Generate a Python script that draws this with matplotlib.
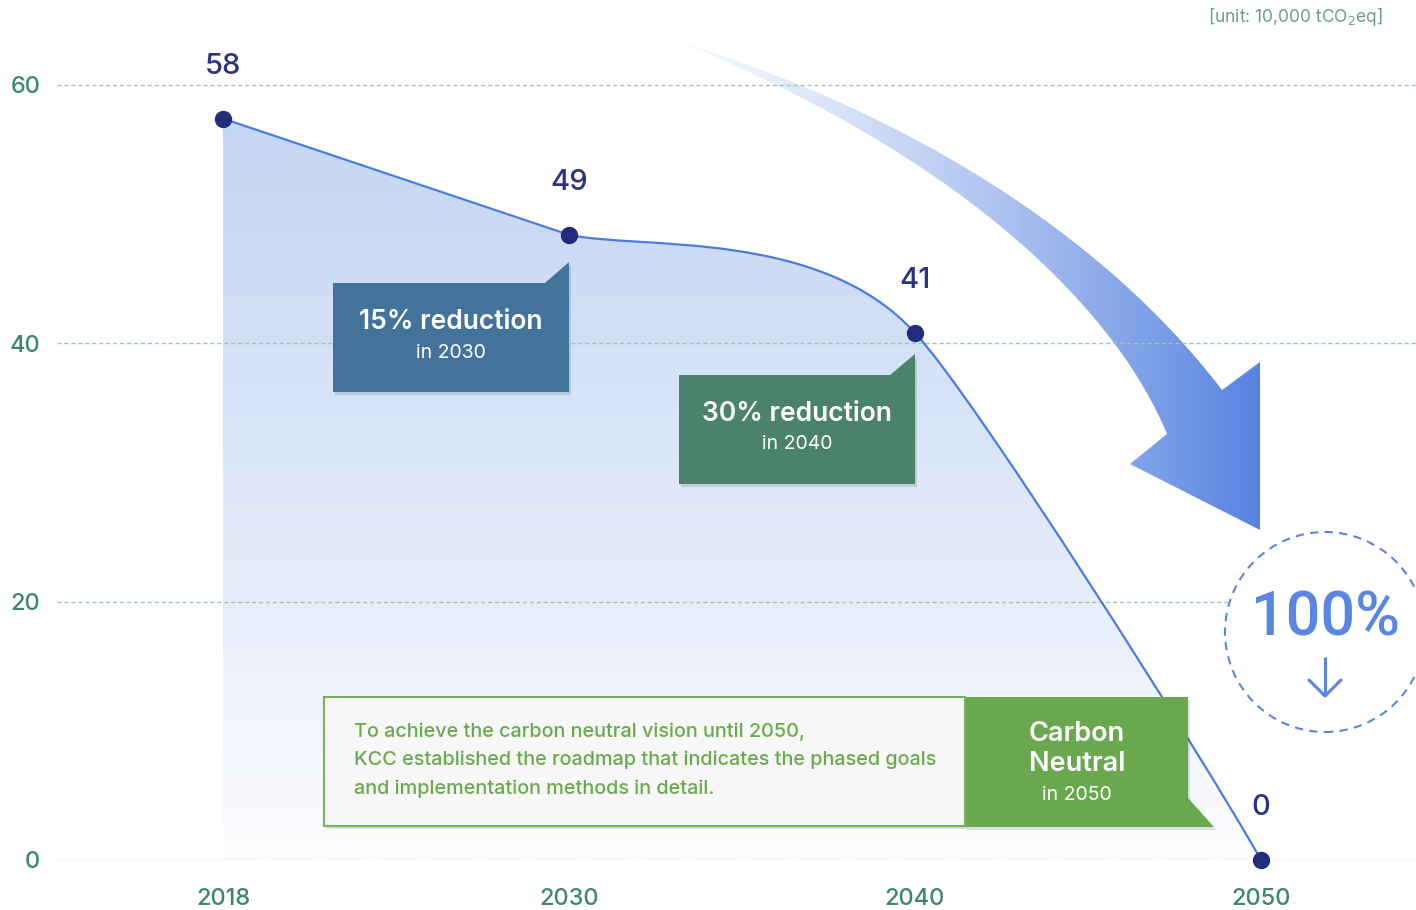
import numpy as np
import matplotlib
matplotlib.use("Agg")
import matplotlib.pyplot as plt
from matplotlib.path import Path
from matplotlib.patches import PathPatch, Polygon, Ellipse
from matplotlib.colors import to_rgb

plt.rcParams["font.family"] = ["Inter", "DejaVu Sans"]

# ==== data ====
years = ["2018", "2030", "2040", "2050"]
emissions = [57.4, 48.4, 40.8, 0.0]
value_labels = ["58", "49", "41", "0"]
y_ticks = [0, 20, 40, 60]

# ==== layout (pixels of the 1416x910 canvas) ====
W, H = 1416, 910
X0, XSTEP = 223, 346          # px of first category, px per category
Y0, YUNIT = 860, 12.917       # px of y=0, px per unit
AX_LEFT = 57

NAVY = "#232c7a"
LINE = "#4d7be0"
TEAL = "#3d8772"
GRID = "#96c9b6"
BLUE = "#5a85e0"


def P(px, py):
    """canvas pixel -> data coords"""
    return ((px - X0) / XSTEP, (Y0 - py) / YUNIT)


fig = plt.figure(figsize=(W / 100, H / 100), dpi=100)
ax = fig.add_axes([AX_LEFT / W, (H - Y0) / H, (W - AX_LEFT) / W, Y0 / H])
for s in ax.spines.values():
    s.set_visible(False)

xs = np.arange(len(years))
ax.set_xticks(xs, years)
ax.set_yticks(y_ticks)
ax.tick_params(axis="both", length=0, labelsize=17, labelcolor=TEAL)
ax.tick_params(axis="x", pad=20)
ax.tick_params(axis="y", pad=12)
for lab in ax.get_xticklabels() + ax.get_yticklabels():
    lab.set_fontweight("medium")
ax.yaxis.grid(True, color=GRID, linestyle=(0, (3, 2)), linewidth=1.0)
ax.set_axisbelow(False)

# ---- smooth curve through the points (bezier handles are styling) ----
verts = [(xs[0], emissions[0]), (xs[1], emissions[1]),
         P(640, 250), P(820, 228), (xs[2], emissions[2]),
         P(972, 393), P(1203, 757), (xs[3], emissions[3])]
codes = [Path.MOVETO, Path.LINETO,
         Path.CURVE4, Path.CURVE4, Path.CURVE4,
         Path.CURVE4, Path.CURVE4, Path.CURVE4]
curve = Path(verts, codes)

area = Path([(xs[0], 0)] + verts + [(xs[3], 0), (xs[0], 0)],
            [Path.MOVETO, Path.LINETO] + codes[1:] + [Path.LINETO, Path.CLOSEPOLY])
area_patch = PathPatch(area, facecolor="none", edgecolor="none")
ax.add_patch(area_patch)

top_c = np.array(to_rgb("#c3d6f3"))
bot_c = np.array(to_rgb("#fdfdff"))
t = np.linspace(0, 1, 256)[:, None]
w = t ** 1.1
grad = (top_c * (1 - w) + bot_c * w)[:, None, :]
im = ax.imshow(grad, extent=[xs[0], xs[3], 0, emissions[0]], aspect="auto",
               origin="upper", zorder=1, interpolation="bilinear")
im.set_clip_path(area_patch)

ax.add_patch(PathPatch(curve, facecolor="none", edgecolor=LINE, lw=1.6, zorder=3))
ax.plot(xs, emissions, "o", color=NAVY, markersize=11.5, zorder=5, clip_on=False)

for x, v, lab in zip(xs, emissions, value_labels):
    ax.annotate(lab, (x, v), xytext=(0, 37.5), textcoords="offset points",
                ha="center", va="center", fontsize=21, color="#2b3184",
                fontweight="medium", zorder=6)

# ---- big curved gradient arrow ----
arrow_px = [(680, 42), (900, 110), (1100, 230), (1222, 390),
            (1260, 362), (1260, 530), (1130, 464), (1167, 434),
            (1120, 320), (980, 165), (680, 42), (680, 42)]
arrow_codes = [Path.MOVETO, Path.CURVE4, Path.CURVE4, Path.CURVE4,
               Path.LINETO, Path.LINETO, Path.LINETO, Path.LINETO,
               Path.CURVE4, Path.CURVE4, Path.CURVE4, Path.CLOSEPOLY]
arrow = Path([P(*p) for p in arrow_px], arrow_codes)
arrow_patch = PathPatch(arrow, facecolor="none", edgecolor="none")
ax.add_patch(arrow_patch)
l_c = np.array(to_rgb("#eef3fc"))
r_c = np.array(to_rgb("#5682e0"))
u = np.linspace(0, 1, 256)[None, :, None]
ag = np.concatenate([l_c * (1 - u) + r_c * u, (0.3 + 0.7 * u ** 0.5) * np.ones_like(u)], axis=2)
(ax0, ay0), (ax1, ay1) = P(680, 40), P(1262, 532)
aim = ax.imshow(ag, extent=[ax0, ax1, ay1, ay0], aspect="auto", zorder=2, interpolation="bilinear")
aim.set_clip_path(arrow_patch)

ax.set_xlim((AX_LEFT - X0) / XSTEP, (W - X0) / XSTEP)
ax.set_ylim(0, Y0 / YUNIT)


# ---- callout boxes ----
def box(pts_px, color, z=6, shadow=True):
    if shadow:
        ax.add_patch(Polygon([P(x + 2, y + 3) for x, y in pts_px], closed=True,
                             facecolor="#000000", alpha=0.12, edgecolor="none", zorder=z - 0.1))
    ax.add_patch(Polygon([P(x, y) for x, y in pts_px], closed=True,
                         facecolor=color, edgecolor="none", zorder=z))


box([(333, 283), (545, 283), (569, 262), (569, 392), (333, 392)], "#43739a")
ax.text(*P(451, 322), "15% reduction", ha="center", va="center", fontsize=19,
        fontweight="semibold", color="white", zorder=7)
ax.text(*P(451, 353), "in 2030", ha="center", va="center", fontsize=14,
        color="white", zorder=7)

box([(679, 375), (890, 375), (915, 354), (915, 484), (679, 484)], "#4a8369")
ax.text(*P(797, 414), "30% reduction", ha="center", va="center", fontsize=19,
        fontweight="semibold", color="white", zorder=7)
ax.text(*P(797, 444), "in 2040", ha="center", va="center", fontsize=14,
        color="white", zorder=7)

# text panel + carbon neutral tab
box([(324, 697), (965, 697), (965, 826), (324, 826)], "#f7f7f7")
ax.add_patch(Polygon([P(324, 697), P(965, 697), P(965, 826), P(324, 826)], closed=True,
                     facecolor="none", edgecolor="#76b35c", lw=1.5, zorder=6.2))
body = ("To achieve the carbon neutral vision until 2050,\n"
        "KCC established the roadmap that indicates the phased goals\n"
        "and implementation methods in detail.")
ax.text(*P(354, 760), body, ha="left", va="center", fontsize=14.3, color="#69aa4e",
        fontweight="medium", linespacing=1.7, zorder=7)

box([(965, 697), (1188, 697), (1188, 798), (1214, 827), (965, 827)], "#6aa84f")
ax.text(*P(1077, 749), "Carbon\nNeutral", ha="center", va="center", fontsize=19.5,
        fontweight="semibold", color="white", linespacing=1.2, zorder=7)
ax.text(*P(1077, 795), "in 2050", ha="center", va="center", fontsize=14,
        color="white", zorder=7)

# ---- 100% dashed circle ----
cx, cy = P(1325, 632)
ax.add_patch(Ellipse((cx, cy), 200 / XSTEP, 200 / YUNIT, facecolor="white", edgecolor=BLUE,
                     lw=1.5, linestyle=(0, (4, 3)), zorder=4, clip_on=False))
ax.text(*P(1325, 618), "100%", ha="center", va="center", fontsize=44,
        family=["Roboto", "DejaVu Sans"], fontweight="medium", color=BLUE, zorder=5)
ax.plot(*zip(P(1325, 658), P(1325, 695)), color=BLUE, lw=2.2, zorder=5, solid_capstyle="round")
ax.plot(*zip(P(1309, 680), P(1325, 696), P(1341, 680)), color=BLUE, lw=2.2, zorder=5,
        solid_capstyle="round", solid_joinstyle="round")

fig.text(1383 / W, 1 - 17 / H, "[unit: 10,000 tCO$_2$eq]", ha="right", va="center",
         fontsize=12.5, color="#6e9c89")

fig.savefig("out.png", dpi=100)
